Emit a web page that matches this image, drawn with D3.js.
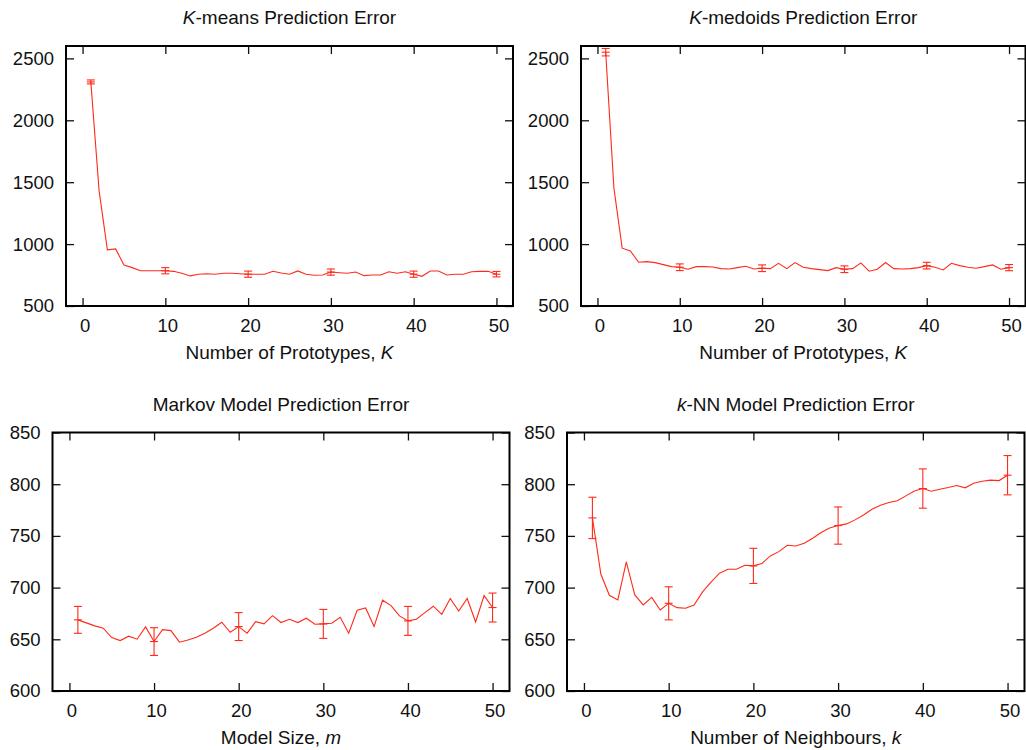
<!DOCTYPE html>
<html>
<head>
<meta charset="utf-8">
<script src="https://cdn.jsdelivr.net/npm/d3@7"></script>
<style>
  body { margin: 0; background: #fff; }
  svg { display: block; font-family: "Liberation Sans", Arial, sans-serif; }
  .tick text { font-size: 18.5px; fill: #111; }
</style>
</head>
<body>
<svg id="chart" width="1026" height="750"></svg>
<script>
const svg = d3.select("#chart");
const lineColor = "#ff2a1a";

// x values shared by every panel
const kValues = [1, 2, 3, 4, 5, 6, 7, 8, 9, 10, 11, 12, 13, 14, 15, 16, 17, 18, 19, 20,
  21, 22, 23, 24, 25, 26, 27, 28, 29, 30, 31, 32, 33, 34, 35, 36, 37, 38, 39, 40,
  41, 42, 43, 44, 45, 46, 47, 48, 49, 50];
const errK = [1, 10, 20, 30, 40, 50];
const xTicks = [0, 10, 20, 30, 40, 50];

const kmeans = [2310, 1430, 953, 961, 831, 810, 785, 785, 785, 785,
  780, 764, 743, 756, 761, 756, 764, 764, 760, 757,
  757, 756, 780, 766, 756, 783, 756, 748, 750, 774,
  769, 764, 774, 745, 750, 750, 777, 764, 777, 757,
  740, 783, 783, 750, 757, 756, 777, 780, 780, 757];
const kmeansErr = [16, 25, 25, 25, 25, 22];

const kmedoids = [2550, 1452, 967, 945, 853, 858, 850, 834, 818, 813,
  797, 818, 818, 815, 802, 799, 810, 821, 799, 805,
  802, 845, 802, 851, 813, 802, 794, 786, 810, 797,
  802, 848, 781, 797, 851, 802, 799, 802, 810, 826,
  813, 791, 845, 826, 813, 805, 818, 832, 797, 810];
const kmedoidsErr = [30, 27, 27, 27, 27, 25];

const markov = [668.8, 665.9, 663, 660.7, 651.7, 648.8, 653, 650.1, 662, 647.8,
  659.4, 658.4, 647.2, 649.4, 652, 655.9, 660.7, 666.5, 656.8, 662.3,
  655.9, 667.1, 664.9, 672.9, 666.2, 669.4, 666.2, 670.4, 664.6, 664.9,
  665.5, 671.3, 655.9, 678.1, 680.3, 662.3, 687.8, 682.6, 672.6, 667.8,
  669.4, 675.8, 682, 674.2, 689.4, 677.4, 689.4, 666.8, 692.3, 680.7];
const markovErr = [13, 13.4, 13.5, 14, 14, 14];

const knn = [767.4, 712.9, 692.6, 688.1, 724.8, 692.9, 683.2, 690.6, 678.4, 684.8,
  680.6, 680, 683.2, 695.8, 705.2, 713.9, 717.7, 717.7, 721.6, 721,
  723.2, 730.6, 734.8, 741, 740.3, 742.9, 747.7, 753.2, 757.7, 760,
  761.6, 765.5, 770.3, 775.8, 779.7, 782.3, 783.9, 788.7, 793.5, 795.8,
  793.2, 795.2, 796.8, 798.7, 796.5, 801, 802.9, 803.9, 803.5, 808.7];
const knnErr = [20, 16, 17, 18, 19, 19];

const bigTicks = [500, 1000, 1500, 2000, 2500];
const smallTicks = [600, 650, 700, 750, 800, 850];

const panels = [
  { box: [66, 46, 513, 306], yDomain: [500, 2600], yTicks: bigTicks,
    values: kmeans, errs: kmeansErr,
    title: [["K", true], ["-means Prediction Error", false]],
    xlabel: [["Number of Prototypes, ", false], ["K", true]],
    titleY: 24, labelY: 359 },
  { box: [581, 46, 1025.5, 306], yDomain: [500, 2600], yTicks: bigTicks,
    values: kmedoids, errs: kmedoidsErr,
    title: [["K", true], ["-medoids Prediction Error", false]],
    xlabel: [["Number of Prototypes, ", false], ["K", true]],
    titleY: 24, labelY: 359 },
  { box: [52.5, 432.5, 509.5, 691], yDomain: [600, 850], yTicks: smallTicks,
    values: markov, errs: markovErr,
    title: [["Markov Model Prediction Error", false]],
    xlabel: [["Model Size, ", false], ["m", true]],
    titleY: 411, labelY: 744 },
  { box: [567, 432.5, 1024.5, 691], yDomain: [600, 850], yTicks: smallTicks,
    values: knn, errs: knnErr,
    title: [["k", true], ["-NN Model Prediction Error", false]],
    xlabel: [["Number of Neighbours, ", false], ["k", true]],
    titleY: 411, labelY: 744 }
];

panels.forEach(drawPanel);

function drawPanel(p) {
  const [x0, y0, x1, y1] = p.box;
  const g = svg.append("g");

  const x = d3.scaleLinear().domain([-2, 52]).range([x0, x1]);
  const y = d3.scaleLinear().domain(p.yDomain).range([y1, y0]);

  // inward ticks on all four sides
  g.append("g")
    .attr("transform", `translate(0,${y1})`)
    .call(d3.axisBottom(x).tickValues(xTicks).tickSizeInner(-8).tickSizeOuter(0).tickPadding(13).tickFormat(d3.format("d")))
    .call(a => a.selectAll("text").attr("dx", 2));
  g.append("g")
    .attr("transform", `translate(0,${y0})`)
    .call(d3.axisTop(x).tickValues(xTicks).tickSizeInner(-8).tickSizeOuter(0).tickFormat(""));
  g.append("g")
    .attr("transform", `translate(${x0},0)`)
    .call(d3.axisLeft(y).tickValues(p.yTicks).tickSizeInner(-8).tickSizeOuter(0).tickPadding(12).tickFormat(d3.format("d")));
  g.append("g")
    .attr("transform", `translate(${x1},0)`)
    .call(d3.axisRight(y).tickValues(p.yTicks).tickSizeInner(-8).tickSizeOuter(0).tickFormat(""));

  g.selectAll(".domain").remove();
  g.selectAll(".tick line").attr("stroke", "#111").attr("stroke-width", 1.3);

  // series line
  const pts = kValues.map((k, i) => ({ k, v: p.values[i] }));
  g.append("path")
    .datum(pts)
    .attr("fill", "none")
    .attr("stroke", lineColor)
    .attr("stroke-width", 1.1)
    .attr("d", d3.line().x(d => x(d.k)).y(d => y(d.v)));

  // error bars with caps and centre marks
  const bars = errK.map((k, i) => ({ k, v: p.values[k - 1], e: p.errs[i] }));
  const eb = g.append("g").attr("stroke", lineColor).attr("stroke-width", 1.1);
  eb.selectAll(".v").data(bars).join("line")
    .attr("x1", d => x(d.k)).attr("x2", d => x(d.k))
    .attr("y1", d => y(d.v - d.e)).attr("y2", d => y(d.v + d.e));
  [-1, 0, 1].forEach(s => {
    eb.selectAll(null).data(bars).join("line")
      .attr("x1", d => x(d.k) - 4).attr("x2", d => x(d.k) + 4)
      .attr("y1", d => y(d.v + s * d.e)).attr("y2", d => y(d.v + s * d.e));
  });

  // frame
  g.append("rect")
    .attr("x", x0).attr("y", y0)
    .attr("width", x1 - x0).attr("height", y1 - y0)
    .attr("fill", "none").attr("stroke", "#000").attr("stroke-width", 2);

  const cx = (x0 + x1) / 2;
  const title = g.append("text")
    .attr("x", cx).attr("y", p.titleY)
    .attr("text-anchor", "middle").style("font-size", "19px").attr("fill", "#111");
  p.title.forEach(([t, it]) => title.append("tspan").style("font-style", it ? "italic" : "normal").text(t));

  const lab = g.append("text")
    .attr("x", cx).attr("y", p.labelY)
    .attr("text-anchor", "middle").style("font-size", "19px").attr("fill", "#111");
  p.xlabel.forEach(([t, it]) => lab.append("tspan").style("font-style", it ? "italic" : "normal").text(t));
}
</script>
</body>
</html>
